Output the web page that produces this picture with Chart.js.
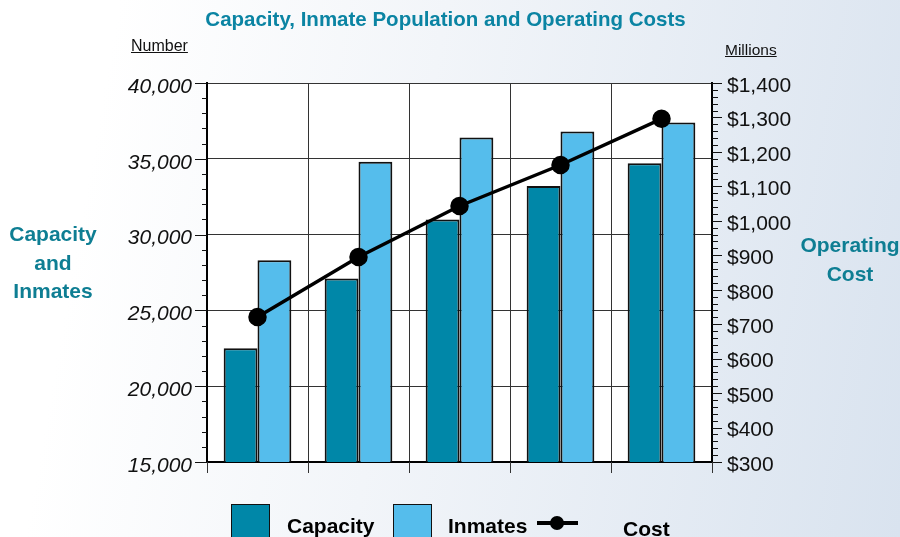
<!DOCTYPE html>
<html><head><meta charset="utf-8">
<script src="https://cdn.jsdelivr.net/npm/chart.js@4.4.1/dist/chart.umd.min.js"></script>
<style>
html,body{margin:0;padding:0;}
body{width:900px;height:537px;overflow:hidden;position:relative;font-family:"Liberation Sans",Arial,sans-serif;background:linear-gradient(100deg,#ffffff 12%,#f2f5f9 45%,#d9e3ef 100%);}
#wrap{position:absolute;left:0;top:0;width:900px;height:537px;}
.t{position:absolute;white-space:nowrap;}
.title{left:0;width:891px;top:7px;text-align:center;font-weight:bold;font-size:20.5px;color:#0b84a3;}
.unit{color:#111;text-decoration:underline;}
.side{font-weight:bold;font-size:21px;color:#0e7e93;text-align:center;line-height:28.5px;}
.box{position:absolute;border:1.5px solid #111;box-sizing:border-box;}
.leg{position:absolute;font-weight:bold;font-size:21px;color:#000;white-space:nowrap;}
</style></head><body>
<div id="wrap"><canvas id="c" width="900" height="537"></canvas></div>
<div class="t title">Capacity, Inmate Population and Operating Costs</div>
<div class="t unit" style="left:131px;top:37px;font-size:16px;">Number</div>
<div class="t unit" style="left:725px;top:41px;font-size:15.5px;">Millions</div>
<div class="t side" style="left:0;width:106px;top:220px;">Capacity<br>and<br>Inmates</div>
<div class="t side" style="left:797px;width:106px;top:231px;">Operating<br>Cost</div>
<div class="box" style="left:231px;top:504px;width:39px;height:40px;background:#0087a8;"></div>
<div class="leg" style="left:287px;top:514px;">Capacity</div>
<div class="box" style="left:393px;top:504px;width:39px;height:40px;background:#55bdec;"></div>
<div class="leg" style="left:448px;top:514px;">Inmates</div>
<div style="position:absolute;left:537px;top:521px;width:41px;height:4px;background:#000;"></div>
<div style="position:absolute;left:550px;top:516px;width:14px;height:14px;border-radius:50%;background:#000;"></div>
<div class="leg" style="left:623px;top:517px;">Cost</div>
<script>
const categories = ['1', '2', '3', '4', '5'];
const capacity = [22500, 27100, 31000, 33200, 34700];
const inmates = [28300, 34800, 36400, 36800, 37400];
const cost = [721, 895, 1043, 1162, 1296];
const leftTicks = [15000, 20000, 25000, 30000, 35000, 40000];
const rightTicks = [300, 400, 500, 600, 700, 800, 900, 1000, 1100, 1200, 1300, 1400];

const fmt = v => v.toLocaleString('en-US');

const deco = {
  id: 'deco',
  beforeDraw(chart) {
    const {ctx, chartArea: a} = chart;
    ctx.save();
    ctx.fillStyle = '#ffffff';
    ctx.fillRect(a.left, a.top, a.right - a.left, a.bottom - a.top);
    ctx.restore();
  },
  afterDraw(chart) {
    const {ctx, chartArea: a, scales} = chart;
    ctx.save();
    ctx.strokeStyle = '#111';
    ctx.lineWidth = 1;
    const yl = scales.y, yr = scales.y2, x = scales.x;
    for (let v = leftTicks[0]; v <= leftTicks[leftTicks.length - 1]; v += 1000) {
      const p = Math.round(yl.getPixelForValue(v)) + 0.5;
      const len = (v % 5000 === 0) ? 12 : 5;
      ctx.beginPath(); ctx.moveTo(a.left - len, p); ctx.lineTo(a.left, p); ctx.stroke();
    }
    for (let v = rightTicks[0]; v <= rightTicks[rightTicks.length - 1]; v += 20) {
      const p = Math.round(yr.getPixelForValue(v)) + 0.5;
      const len = (v % 100 === 0) ? 10 : 6;
      ctx.beginPath(); ctx.moveTo(a.right, p); ctx.lineTo(a.right + len, p); ctx.stroke();
    }
    ctx.strokeStyle = '#333';
    for (let i = 0; i <= categories.length; i++) {
      const p = Math.round(x.getPixelForValue(i - 0.5)) + 0.5;
      ctx.beginPath(); ctx.moveTo(p, a.bottom); ctx.lineTo(p, a.bottom + 11); ctx.stroke();
    }
    ctx.restore();
  }
};

new Chart(document.getElementById('c'), {
  type: 'bar',
  data: {
    labels: categories,
    datasets: [
      {type: 'line', label: 'Cost', data: cost, yAxisID: 'y2', order: 0,
       borderColor: '#000', backgroundColor: '#000', borderWidth: 3.5,
       pointRadius: 7.5, pointHoverRadius: 7.5, pointBackgroundColor: '#000', tension: 0},
      {label: 'Capacity', data: capacity, yAxisID: 'y', order: 1,
       backgroundColor: '#0087a8', borderColor: '#111', borderWidth: 2, borderSkipped: false,
       categoryPercentage: 0.67, barPercentage: 1.0},
      {label: 'Inmates', data: inmates, yAxisID: 'y', order: 1,
       backgroundColor: '#55bdec', borderColor: '#111', borderWidth: 2, borderSkipped: false,
       categoryPercentage: 0.67, barPercentage: 1.0}
    ]
  },
  options: {
    responsive: false,
    animation: false,
    layout: {padding: {top: 83, left: 0, right: 0, bottom: 0}},
    plugins: {legend: {display: false}, tooltip: {enabled: false}, title: {display: false}},
    scales: {
      x: {
        type: 'category', offset: true,
        grid: {offset: true, color: '#333', lineWidth: 1, drawTicks: false},
        border: {display: true, color: '#000', width: 2},
        ticks: {display: false},
        afterFit(s) { s.height = 75; }
      },
      y: {
        position: 'left', min: leftTicks[0], max: leftTicks[leftTicks.length - 1],
        afterBuildTicks(s) { s.ticks = leftTicks.map(v => ({value: v})); },
        grid: {color: '#333', lineWidth: 1, drawTicks: false},
        border: {display: true, color: '#000', width: 2},
        ticks: {padding: 15, labelOffset: 4, color: '#111', font: {family: 'Liberation Sans', size: 21, style: 'italic'},
                callback: v => fmt(v)},
        afterFit(s) { s.width = 207; }
      },
      y2: {
        position: 'right', min: rightTicks[0], max: rightTicks[rightTicks.length - 1],
        afterBuildTicks(s) { s.ticks = rightTicks.map(v => ({value: v})); },
        grid: {display: false, drawTicks: false},
        border: {display: true, color: '#000', width: 2},
        ticks: {padding: 15, labelOffset: 3, color: '#111', font: {family: 'Liberation Sans', size: 21},
                callback: v => '$' + fmt(v)},
        afterFit(s) { s.width = 188; }
      }
    }
  },
  plugins: [deco]
});
</script>
</body></html>
